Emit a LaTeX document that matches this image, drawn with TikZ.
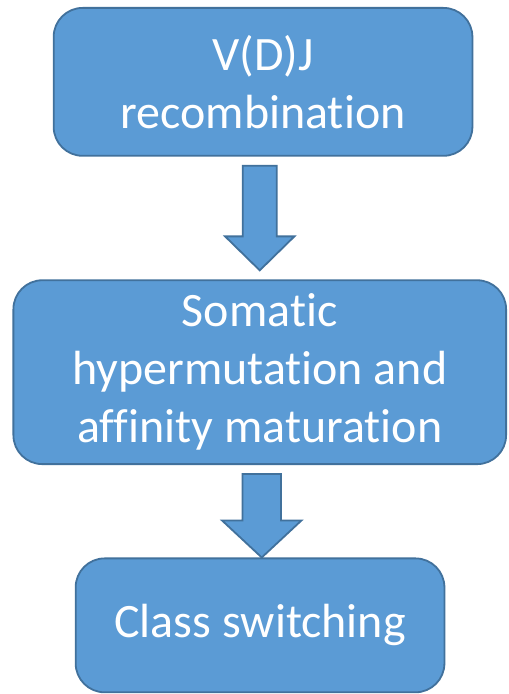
\documentclass[tikz,border=0pt]{standalone}
\usepackage{fontspec}
\setmainfont{Carlito}[Ligatures={NoCommon,NoRare,NoContextual}]
\usetikzlibrary{calc}
\definecolor{boxfill}{HTML}{5B9BD5}
\definecolor{boxline}{HTML}{41719C}
\tikzset{
  stagebox/.style={draw=boxline, fill=boxfill, line width=1.8pt, rounded corners=29pt,
    text=white, align=center, inner sep=0pt,
    font=\fontsize{48}{58}\selectfont},
  arrowbox/.style={draw=boxline, fill=boxfill, line width=1.8pt, line join=miter}
}
% block arrow: top point, tip point, shaft half width, head half width, head length
\newcommand\blockarrow[5]{%
  \draw[arrowbox] ($(#1)+(-#3,0)$) -- ($(#1)+(#3,0)$) -- ($(#2)+(#3,#5)$)
    -- ($(#2)+(#4,#5)$) -- (#2) -- ($(#2)+(-#4,#5)$) -- ($(#2)+(-#3,#5)$) -- cycle;}

\begin{document}
\begin{tikzpicture}[x=1pt,y=1pt]
\filldraw[color=white] (0.000000, 0.000000) rectangle (508.000000, -694.000000);
% Drawing boxes
\node[stagebox, minimum width=419pt, minimum height=148pt] (vdj) at (263.000000, -81.700000) {V(D)J\\recombination};
\node[stagebox, minimum width=493pt, minimum height=184pt] (shm) at (259.700000, -372.200000) {Somatic\\hypermutation and\\affinity maturation};
\node[stagebox, minimum width=369pt, minimum height=134pt] (csr) at (260.000000, -625.500000) {Class switching};
% Done with boxes; drawing arrows
\coordinate (a1top) at ($(shm.north |- vdj.south)+(0,-9)$);
\coordinate (a1tip) at ($(shm.north)+(0,9)$);
\blockarrow{a1top}{a1tip}{17}{34.7}{34}
\coordinate (a2top) at ($(csr.north |- shm.south)+(1.7,-9)$);
\coordinate (a2tip) at ($(csr.north)+(1.7,0)$);
\blockarrow{a2top}{a2tip}{19.3}{39.7}{37}
% Done with arrows
\end{tikzpicture}
\end{document}
